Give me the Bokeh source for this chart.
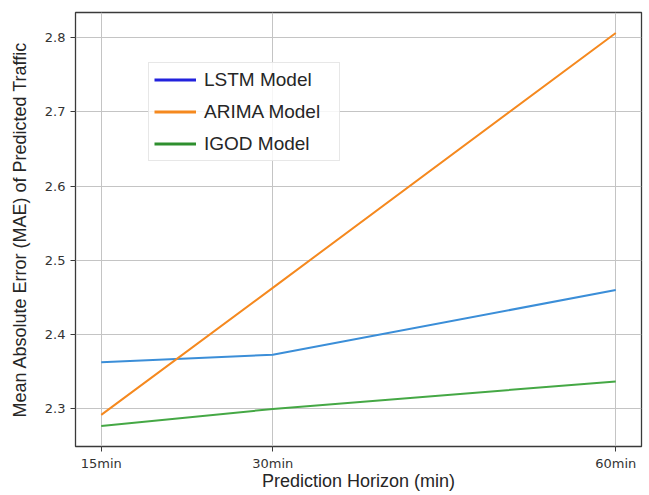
from bokeh.plotting import figure
from bokeh.models import FixedTicker, Legend, LegendItem, Range1d
from bokeh.embed import file_html
from bokeh.resources import INLINE

# ---- data ----
horizon = [15, 30, 60]
lstm_mae = [2.363, 2.373, 2.460]
arima_mae = [2.292, 2.463, 2.806]
igod_mae = [2.277, 2.300, 2.337]
series_names = ["LSTM Model", "ARIMA Model", "IGOD Model"]
x_tick_labels = ["15min", "30min", "60min"]
y_ticks = [2.3, 2.4, 2.5, 2.6, 2.7, 2.8]

line_colors = ["#3b8ed8", "#f5891f", "#45a845"]
legend_colors = ["#2222dd", "#f5891f", "#2e8f2e"]

p = figure(width=648, height=495, output_backend="svg", toolbar_location=None,
           x_range=Range1d(12.75, 62.25), y_range=Range1d(2.2495, 2.8335),
           min_border_left=75, min_border_right=7, min_border_top=12, min_border_bottom=49)
p.background_fill_color = "white"
p.border_fill_color = "white"
p.outline_line_color = "#3a3a3a"
p.outline_line_width = 1.3

p.xaxis.ticker = FixedTicker(ticks=horizon)
p.yaxis.ticker = FixedTicker(ticks=y_ticks)
for ax in (p.xaxis[0], p.yaxis[0]):
    ax.axis_line_color = None
    ax.major_tick_out = 5
    ax.major_tick_in = 0
    ax.minor_tick_line_color = None
    ax.major_tick_line_color = "#3a3a3a"
    ax.major_tick_line_width = 1
    ax.major_label_text_font = "DejaVu Sans"
    ax.major_label_text_font_size = "13px"
    ax.major_label_text_color = "#333333"
    ax.axis_label_text_font = "Liberation Sans"
    ax.axis_label_text_font_style = "normal"
    ax.axis_label_text_font_size = "18px"
    ax.axis_label_text_color = "#262626"

p.yaxis.major_label_standoff = 5
p.yaxis.axis_label = "Mean Absolute Error (MAE) of Predicted Traffic"
p.yaxis.axis_label_standoff = 12

p.xaxis.major_label_overrides = {h: t for h, t in zip(horizon, x_tick_labels)}
p.xaxis.major_label_standoff = 4
p.xaxis.axis_label = "Prediction Horizon (min)"
p.xaxis.axis_label_standoff = -3

p.grid.grid_line_color = "#c4c4c4"
p.grid.grid_line_width = 1

for vals, col in zip([lstm_mae, arima_mae, igod_mae], line_colors):
    p.line(horizon, vals, line_color=col, line_width=2)

nan = float("nan")
items = []
for name, col in zip(series_names, legend_colors):
    r = p.line(x=[nan], y=[nan], line_color=col, line_width=3)
    items.append(LegendItem(label=name, renderers=[r]))

legend = Legend(items=items, location=(73, 285))
legend.label_text_font = "Liberation Sans"
legend.label_text_font_size = "19px"
legend.label_text_color = "#262626"
legend.glyph_width = 42
legend.glyph_height = 23
legend.label_height = 23
legend.label_width = 130
legend.label_standoff = 8
legend.spacing = 9
legend.padding = 5
legend.margin = 0
legend.border_line_color = "#d0d0d0"
legend.border_line_width = 1
legend.background_fill_color = "white"
legend.background_fill_alpha = 0.85
p.add_layout(legend, "center")

open("out.html", "w").write(file_html(p, INLINE))
